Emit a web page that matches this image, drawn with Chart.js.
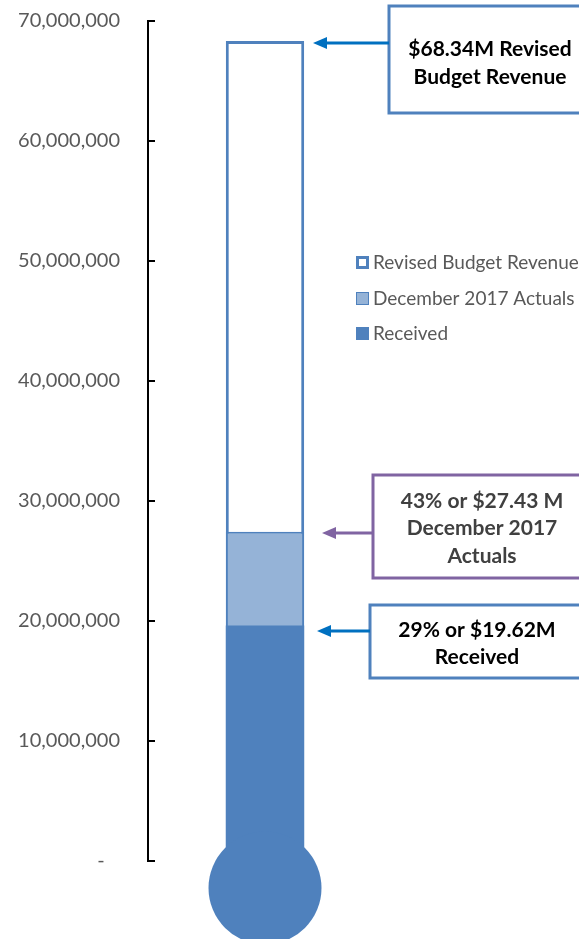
<!DOCTYPE html>
<html>
<head>
<meta charset="utf-8">
<script src="https://cdn.jsdelivr.net/npm/chart.js@4.4.1/dist/chart.umd.min.js"></script>
<style>
  html, body { margin: 0; padding: 0; background: #ffffff; }
  #wrap { position: relative; width: 579px; height: 939px; }
</style>
</head>
<body>
<div id="wrap"><canvas id="c"></canvas></div>
<script>
// ---- data ----
const categories = ['FY2018 Revenue'];
const revisedBudget = [68340000];
const decemberActuals = [27430000];
const received = [19620000];
const seriesNames = ['Revised Budget Revenue', 'December 2017 Actuals', 'Received'];
const yTickValues = [0, 10000000, 20000000, 30000000, 40000000, 50000000, 60000000, 70000000];
const calloutTexts = [
  ['$68.34M Revised', 'Budget Revenue'],
  ['43% or $27.43 M', 'December 2017', 'Actuals'],
  ['29% or $19.62M', 'Received']
];

// ---- styles ----
const BLUE = '#4F81BD';
const LIGHT = '#95B3D7';
const ARROW_BLUE = '#0070C0';
const PURPLE = '#8064A2';
const FONT = 'Lato, "Open Sans", sans-serif';

const callouts = [
  { series: revisedBudget, dy: 2, left: 389, boxTop: -37, boxH: 107, tip: 313, border: BLUE, arrow: ARROW_BLUE, text: '#000000', cx: 490, lineDy: [6, 34], lines: calloutTexts[0] },
  { series: decemberActuals, dy: 1, left: 373, boxTop: -58, boxH: 103, tip: 322, border: PURPLE, arrow: PURPLE, text: '#404040', cx: 482, lineDy: [-32, -5, 23], lines: calloutTexts[1] },
  { series: received, dy: 5, left: 370, boxTop: -26, boxH: 73, tip: 317, border: BLUE, arrow: ARROW_BLUE, text: '#000000', cx: 477, lineDy: [-1, 26], lines: calloutTexts[2] }
];

const extrasPlugin = {
  id: 'thermoExtras',
  afterDatasetsDraw(chart) {
    const ctx = chart.ctx;
    const y = chart.scales.y;
    const meta = chart.getDatasetMeta(2);
    const bar = meta.data[0];
    const zeroPx = y.getPixelForValue(0);
    // bulb
    ctx.save();
    ctx.fillStyle = BLUE;
    ctx.beginPath();
    ctx.arc(bar.x, zeroPx + 27, 56.5, 0, Math.PI * 2);
    ctx.fill();
    ctx.restore();
  },
  afterDraw(chart) {
    const ctx = chart.ctx;
    const y = chart.scales.y;
    const area = chart.chartArea;
    ctx.save();
    // inside tick marks
    ctx.strokeStyle = '#000000';
    ctx.lineWidth = 2;
    y.ticks.forEach(t => {
      const py = Math.round(y.getPixelForValue(t.value));
      ctx.beginPath();
      ctx.moveTo(area.left - 1, py);
      ctx.lineTo(area.left + 7, py);
      ctx.stroke();
    });
    // legend
    const legendX = 356, legendY = [262, 298, 333];
    ctx.font = '19px ' + FONT;
    ctx.textBaseline = 'middle';
    ctx.textAlign = 'left';
    seriesNames.forEach((name, i) => {
      const cy = legendY[i];
      ctx.fillStyle = BLUE;
      ctx.fillRect(legendX, cy - 6, 13, 13);
      if (i === 0) {
        ctx.fillStyle = '#FFFFFF';
        ctx.fillRect(legendX + 3, cy - 3, 7, 7);
      } else if (i === 1) {
        ctx.fillStyle = LIGHT;
        ctx.fillRect(legendX + 1, cy - 5, 11, 11);
      }
      ctx.fillStyle = '#595959';
      ctx.fillText(name, legendX + 17, cy + 1);
    });
    // callouts
    callouts.forEach(c => {
      const ay = Math.round(y.getPixelForValue(c.series[0])) + c.dy;
      ctx.strokeStyle = c.border;
      ctx.lineWidth = 3;
      ctx.strokeRect(c.left, ay + c.boxTop, 260, c.boxH);
      // arrow
      ctx.strokeStyle = c.arrow;
      ctx.fillStyle = c.arrow;
      ctx.lineWidth = 3;
      ctx.beginPath();
      ctx.moveTo(c.left, ay);
      ctx.lineTo(c.tip + 10, ay);
      ctx.stroke();
      ctx.beginPath();
      ctx.moveTo(c.tip, ay);
      ctx.lineTo(c.tip + 14, ay - 6);
      ctx.lineTo(c.tip + 14, ay + 6);
      ctx.closePath();
      ctx.fill();
      // text
      ctx.fillStyle = c.text;
      ctx.font = 'bold 21px ' + FONT;
      ctx.textAlign = 'center';
      ctx.textBaseline = 'middle';
      c.lines.forEach((ln, i) => ctx.fillText(ln, c.cx, ay + c.lineDy[i]));
    });
    ctx.restore();
  }
};

new Chart(document.getElementById('c'), {
  type: 'bar',
  data: {
    labels: categories,
    datasets: [
      { label: seriesNames[0], data: revisedBudget, backgroundColor: '#FFFFFF', borderColor: BLUE, borderWidth: 3, borderSkipped: false, grouped: false, order: 3 },
      { label: seriesNames[1], data: decemberActuals, backgroundColor: LIGHT, borderColor: BLUE, borderWidth: 2, borderSkipped: false, grouped: false, order: 2 },
      { label: seriesNames[2], data: received, backgroundColor: BLUE, borderWidth: 0, grouped: false, order: 1 }
    ]
  },
  options: {
    responsive: true,
    maintainAspectRatio: false,
    animation: false,
    layout: { padding: { top: 21, bottom: 78, left: 0, right: 197 } },
    datasets: { bar: { categoryPercentage: 1, barPercentage: 0.335 } },
    plugins: { legend: { display: false }, tooltip: { enabled: false } },
    scales: {
      x: { display: false },
      y: {
        min: 0,
        max: 70000000,
        afterFit(s) { s.width = 148; },
        afterBuildTicks(s) { s.ticks = yTickValues.map(v => ({ value: v })); },
        grid: { drawOnChartArea: false, drawTicks: true, tickLength: 28, tickColor: 'rgba(0,0,0,0)' },
        border: { color: '#000000', width: 2 },
        ticks: {
          padding: 0,
          color: '#595959',
          font: { family: FONT, size: 20 },
          callback: v => v === 0 ? '-   ' : Number(v).toLocaleString('en-US')
        }
      }
    }
  },
  plugins: [extrasPlugin]
});
</script>
</body>
</html>
